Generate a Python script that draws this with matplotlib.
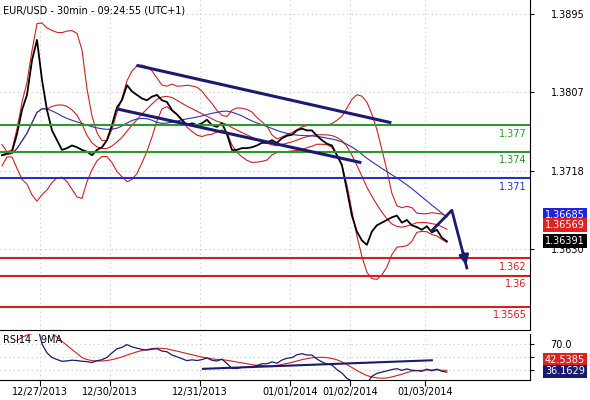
import numpy as np
import pandas as pd
import matplotlib
matplotlib.use('Agg')
import matplotlib.pyplot as plt

# close prices, one point per bar step
close = [1.3736, 1.3738, 1.3740, 1.3760, 1.3787, 1.3804, 1.3843, 1.3866, 1.3821, 1.3787,
         1.3764, 1.3753, 1.3742, 1.3744, 1.3747, 1.3745, 1.3742, 1.3740, 1.3736, 1.3742,
         1.3745, 1.3753, 1.3770, 1.3790, 1.3798, 1.3815, 1.3808, 1.3804, 1.3800, 1.3798,
         1.3802, 1.3804, 1.3798, 1.3796, 1.3787, 1.3782, 1.3776, 1.3770, 1.3772, 1.3770,
         1.3772, 1.3776, 1.3770, 1.3768, 1.3772, 1.3760, 1.3742, 1.3742, 1.3744, 1.3744,
         1.3745, 1.3747, 1.3750, 1.3750, 1.3753, 1.3750, 1.3755, 1.3758, 1.3759, 1.3764,
         1.3766, 1.3764, 1.3764, 1.3758, 1.3753, 1.3749, 1.3747, 1.3736, 1.3725, 1.3697,
         1.3668, 1.3650, 1.3640, 1.3635, 1.3650, 1.3657, 1.3660, 1.3663, 1.3666, 1.3668,
         1.3660, 1.3663, 1.3657, 1.3655, 1.3652, 1.3656, 1.3649, 1.3652, 1.3643, 1.3639]
step = 5  # x units per bar

levels_green = [1.377, 1.374]
level_blue = 1.371
levels_red = [1.362, 1.36, 1.3565]
level_labels = ['1.377', '1.374', '1.371', '1.362', '1.36', '1.3565']
channel_top = ([138, 390], [1.3837, 1.3773])
channel_bot = ([118, 360], [1.3788, 1.3728])
arrow_path = ([432, 452, 467], [1.3651, 1.3674, 1.3609])

date_pos = [40, 110, 200, 290, 350, 425]
date_labels = ['12/27/2013', '12/30/2013', '12/31/2013', '01/01/2014', '01/02/2014', '01/03/2014']
price_ticks = [1.3895, 1.3807, 1.3718, 1.3630]

s = pd.Series(close)
x = np.arange(len(close)) * step + 2
mid = s.rolling(10, min_periods=1).mean()
sd = s.rolling(10, min_periods=2).std().fillna(0.0006)
ma = s.rolling(24, min_periods=1).mean()
d = s.diff().fillna(0)
up = d.clip(lower=0).ewm(alpha=1/14).mean()
dn = (-d).clip(lower=0).ewm(alpha=1/14).mean()
rsi = 100 - 100 / (1 + up / dn.replace(0, 1e-9))
rsi_ma = rsi.rolling(9, min_periods=1).mean()

fig = plt.figure(figsize=(5.9, 4.0), dpi=100)
ax = fig.add_axes([0.0, 0.175, 0.898, 0.825])
ax2 = fig.add_axes([0.0, 0.05, 0.898, 0.115])

ax.set_xlim(0, 530)
ax.set_ylim(1.3539, 1.3911)
for a in (ax, ax2):
    a.grid(True, color='#c8c8c8', linestyle=(0, (1, 3)), lw=0.8)
    a.set_xticks(date_pos)
    for sp in ['left', 'top']:
        a.spines[sp].set_visible(False)
ax.tick_params(axis='x', length=0, labelbottom=False)

# bollinger + moving average
ax.plot(x, mid + 2 * sd, color='#cc2222', lw=0.8)
ax.plot(x, mid - 2 * sd, color='#cc2222', lw=0.8)
ax.plot(x, mid, color='#cc2222', lw=0.8)
ax.plot(x, ma, color='#3333aa', lw=0.8)
ax.plot(x, close, color='black', lw=1.3)

for lv in levels_green:
    ax.axhline(lv, color='#2a9a2a', lw=1.5)
ax.axhline(level_blue, color='#2233bb', lw=1.5)
for lv in levels_red:
    ax.axhline(lv, color='#cc2222', lw=1.5)
for lv, lab in zip(levels_green + [level_blue] + levels_red, level_labels):
    c = '#2a9a2a' if lv in levels_green else ('#2233bb' if lv == level_blue else '#cc2222')
    ax.text(527, lv - 0.0004, lab, color=c, fontsize=7, ha='right', va='top')

ax.plot(*channel_top, color='#1a1a6e', lw=2.2)
ax.plot(*channel_bot, color='#1a1a6e', lw=2.2)
ax.plot(arrow_path[0], arrow_path[1], color='#1a1a6e', lw=2)
ax.annotate('', xy=(arrow_path[0][2], arrow_path[1][2]),
            xytext=(arrow_path[0][1] + 11, arrow_path[1][1] - 0.0045),
            arrowprops=dict(arrowstyle='-|>', color='#1a1a6e', lw=2, mutation_scale=14))

ax.yaxis.tick_right()
ax.set_yticks(price_ticks)
ax.set_yticklabels(['1.3895', '1.3807', '1.3718', '1.3630'], fontsize=7)
ax.tick_params(axis='y', length=3, pad=12)
ax.text(3, 1.3905, 'EUR/USD - 30min - 09:24:55 (UTC+1)', fontsize=7, va='top')
for val, fc, yv in [('1.36685', '#2222dd', 1.36685), ('1.36569', '#dd2222', 1.36569),
                    ('1.36391', 'black', 1.36391)]:
    ax.text(545, yv, val, fontsize=7, color='white', va='center', ha='left',
            bbox=dict(boxstyle='square,pad=0.2', fc=fc, ec='none'), clip_on=False)

# RSI panel (skip the warm-up bars)
ax2.set_xlim(0, 530)
ax2.set_ylim(15, 85)
ax2.plot(x[3:], rsi_ma[3:], color='#cc2222', lw=0.8)
ax2.plot(x[3:], rsi[3:], color='#1a1a6e', lw=0.9)
ax2.plot([203, 432], [32, 45], color='#1a1a6e', lw=1.5)
ax2.yaxis.tick_right()
ax2.set_yticks([30, 50, 70])
ax2.set_yticklabels(['', '', '70.0'], fontsize=7)
ax2.tick_params(axis='y', length=3, pad=12)
ax2.set_xticklabels(date_labels, fontsize=7)
ax2.tick_params(axis='x', length=4, pad=1)
ax2.text(3, 83, 'RSI14 - 9MA', fontsize=7, va='top')
ax2.text(545, 45, '42.5385', fontsize=7, color='white', va='center',
         bbox=dict(boxstyle='square,pad=0.2', fc='#dd2222', ec='none'), clip_on=False)
ax2.text(545, 28, '36.1629', fontsize=7, color='white', va='center',
         bbox=dict(boxstyle='square,pad=0.2', fc='#1a1a6e', ec='none'), clip_on=False)

fig.savefig('out.png', dpi=100)
